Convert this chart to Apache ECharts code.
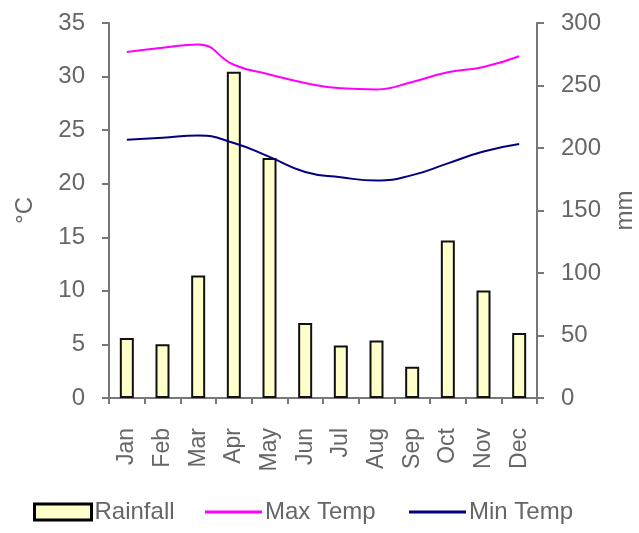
<!DOCTYPE html>
<html><head><meta charset="utf-8">
<script src="https://cdn.jsdelivr.net/npm/echarts@6/dist/echarts.min.js"></script>
<style>html,body{margin:0;padding:0;background:#fff}#c{width:639px;height:533px}</style>
</head><body><div id="c"></div>
<script>
const months = ['Jan','Feb','Mar','Apr','May','Jun','Jul','Aug','Sep','Oct','Nov','Dec'];
const rainfall = [48, 43, 98, 261, 192, 60, 42, 46, 25, 126, 86, 52];
const maxTemp = [32.3, 32.7, 33.0, 31.1, 30.2, 29.4, 28.9, 28.8, 29.5, 30.4, 30.9, 31.9];
const minTemp = [24.1, 24.3, 24.5, 23.8, 22.5, 21.1, 20.6, 20.3, 20.8, 21.9, 23.0, 23.7];
const tempTicks = {min: 0, max: 35, interval: 5};
const rainTicks = {min: 0, max: 300, interval: 50};

const FONT = 'Liberation Sans';
const TXT = '#666';
const AX = '#777';
const chart = echarts.init(document.getElementById('c'));
const legendBase = {bottom: 4, selectedMode: false, itemGap: 0, itemWidth: 57,
  textStyle: {fontFamily: FONT, fontSize: 24, color: TXT, padding: [0,0,0,-2]}};
chart.setOption({
  animation: false,
  grid: {left: 109, right: 102, top: 23, bottom: 135, outerBoundsMode: 'none', containLabel: false},
  xAxis: {
    type: 'category', data: months,
    axisLine: {lineStyle: {color: AX, width: 2}},
    axisTick: {show: true, length: 6, lineStyle: {color: AX, width: 2}},
    axisLabel: {rotate: 90, margin: 30, fontFamily: FONT, fontSize: 23, color: TXT}
  },
  yAxis: [
    {type: 'value', min: tempTicks.min, max: tempTicks.max, interval: tempTicks.interval,
     name: '°C', nameLocation: 'middle', nameGap: 72, nameRotate: 90,
     nameTextStyle: {fontFamily: FONT, fontSize: 24, color: TXT},
     axisLine: {show: true, lineStyle: {color: AX, width: 2}},
     axisTick: {show: true, length: 7, lineStyle: {color: AX, width: 2}},
     splitLine: {show: false},
     axisLabel: {margin: 24, fontFamily: FONT, fontSize: 24, color: TXT}},
    {type: 'value', min: rainTicks.min, max: rainTicks.max, interval: rainTicks.interval,
     name: 'mm', nameLocation: 'middle', nameGap: 76, nameRotate: 90,
     nameTextStyle: {fontFamily: FONT, fontSize: 24, color: TXT},
     axisLine: {show: true, lineStyle: {color: AX, width: 2}},
     axisTick: {show: true, length: 7, lineStyle: {color: AX, width: 2}},
     splitLine: {show: false},
     axisLabel: {margin: 24, fontFamily: FONT, fontSize: 24, color: TXT}}
  ],
  legend: [
    Object.assign({}, legendBase, {data: ['Rainfall'], left: 28, itemHeight: 16, icon: 'rect',
      itemStyle: {borderColor: '#000', borderWidth: 3}}),
    Object.assign({}, legendBase, {data: ['Max Temp'], left: 200, itemHeight: 3, icon: 'rect'}),
    Object.assign({}, legendBase, {data: ['Min Temp'], left: 404, itemHeight: 3, icon: 'rect'})
  ],
  series: [
    {name: 'Rainfall', type: 'bar', yAxisIndex: 1, data: rainfall, barWidth: 14,
     itemStyle: {color: '#ffffcc', borderColor: '#111', borderWidth: 2}},
    {name: 'Max Temp', type: 'line', yAxisIndex: 0, data: maxTemp, smooth: true,
     symbol: 'none', lineStyle: {color: '#ff00ff', width: 2}, itemStyle: {color: '#ff00ff'}},
    {name: 'Min Temp', type: 'line', yAxisIndex: 0, data: minTemp, smooth: true,
     symbol: 'none', lineStyle: {color: '#000080', width: 2}, itemStyle: {color: '#000080'}}
  ]
});
</script></body></html>
